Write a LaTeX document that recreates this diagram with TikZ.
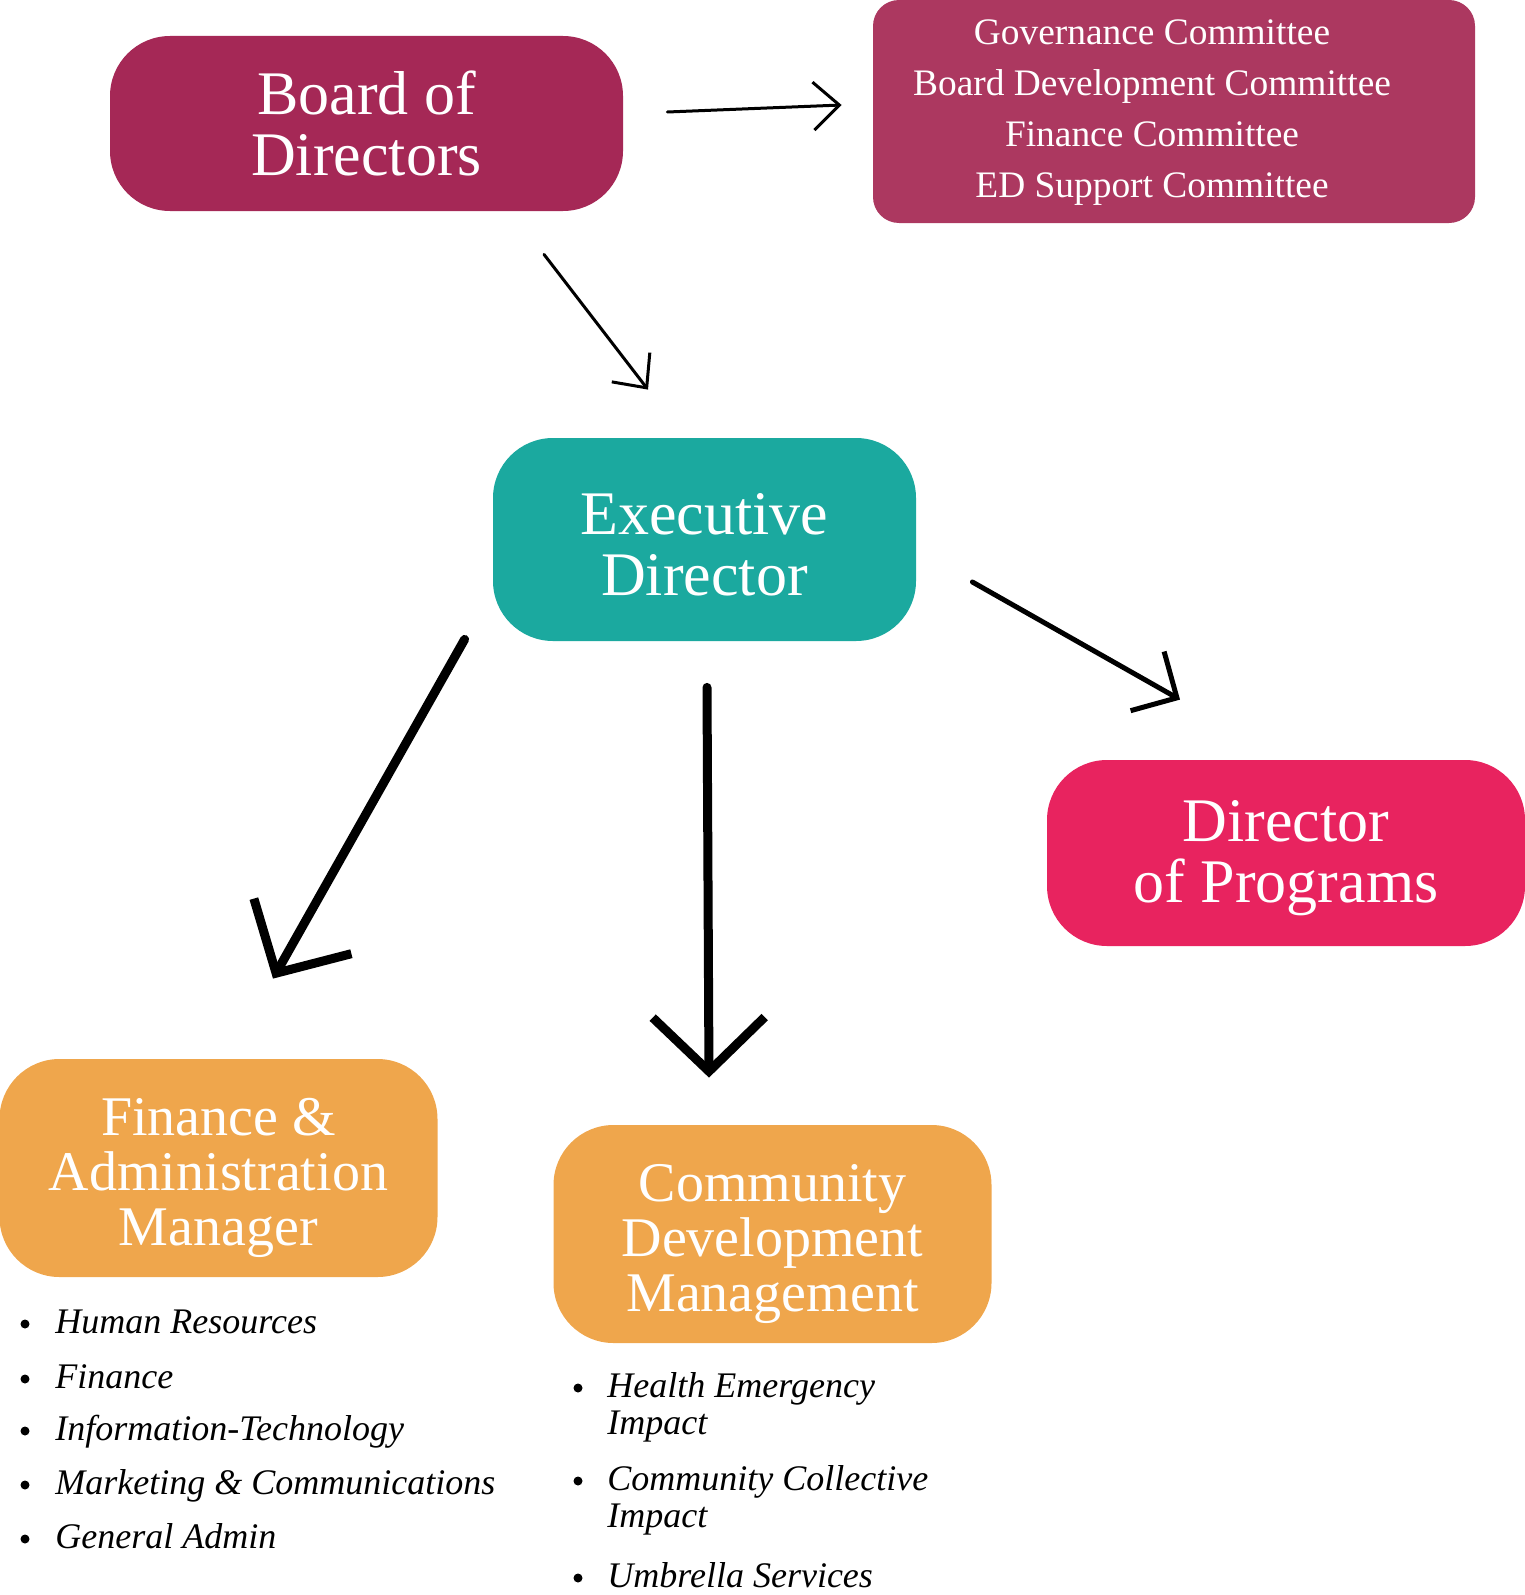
\documentclass[tikz,border=0pt]{standalone}
\usepackage{fontspec}
\setmainfont{Liberation Serif}
\usetikzlibrary{positioning, arrows.meta, calc}
\definecolor{boardred}{RGB}{165, 40, 86}
\definecolor{committeered}{RGB}{172, 56, 96}
\definecolor{edteal}{RGB}{27, 169, 159}
\definecolor{programpink}{RGB}{232, 35, 95}
\definecolor{managerorange}{RGB}{239, 166, 76}

\begin{document}
\begin{tikzpicture}[
    x=0.5pt, y=-0.5pt, % one unit = one pixel of the reference, y down
    box/.style={ % Style for main boxes, takes fill color as argument
        rectangle,
        rounded corners=30pt,
        inner sep=0pt,
        draw=none,
        fill=#1
    },
    boxtext/.style={align=center, text=white, inner sep=0pt, font=#1},
    boxtext/.default=\fontsize{31}{30.5}\selectfont,
    % Specific styles using the base 'box' style
    board/.style={box=boardred, minimum width=256.5pt, minimum height=87.5pt},
    committees/.style={box=committeered, rounded corners=13pt,
        minimum width=301pt, minimum height=111.5pt},
    director/.style={box=#1},
    manager/.style={box=managerorange, minimum width=219pt, minimum height=109pt},
    % Bullet lists
    bullet/.style={circle, fill=black, inner sep=0pt, minimum size=4.5pt},
    item/.style={anchor=base west, inner sep=0pt, align=left,
        font=\fontsize{18}{18.5}\selectfont\itshape},
    % Arrow styles
    thinarrow/.style={draw=black, line width=1.5pt, line cap=round,
        -{Straight Barb[length=13pt, width=24pt]}},
    midarrow/.style={draw=black, line width=2.5pt, line cap=round,
        -{Straight Barb[length=17pt, width=34pt]}},
    thickarrow/.style={draw=black, line width=4.5pt, line cap=round,
        -{Straight Barb[length=27pt, width=56pt]}}
]
\useasboundingbox (0,0) rectangle (1525,1595);

% Board and committees
\node[board] (board) at (366.5,123.5) {};
\node[boxtext] (board-text) at (board) {Board of\\Directors};
\node[committees] (comm) at (1174,111.5) {};
\node[boxtext=\fontsize{18.7}{25.5}\selectfont] (comm-text) at (1152,113)
    {Governance Committee\\Board Development Committee\\Finance Committee\\ED Support Committee};

% Directors
\node[director=edteal, minimum width=211.5pt, minimum height=101.5pt] (ed) at (704.5,539.5) {};
\node[boxtext] (ed-text) at ([yshift=-2.5pt]ed) {Executive\\Director};
\node[director=programpink, minimum width=239pt, minimum height=93pt] (dop) at (1286,853) {};
\node[boxtext] (dop-text) at ([yshift=-2.5pt]dop) {Director\\of Programs};

% Managers
\node[manager] (fam) at (218.5,1168) {};
\node[boxtext=\fontsize{28}{27.5}\selectfont] (fam-text) at ([yshift=-5pt]fam)
    {Finance \&\\Administration\\Manager};
\node[manager] (cdm) at (772.5,1234) {};
\node[boxtext=\fontsize{28}{27.5}\selectfont] (cdm-text) at ([yshift=-5pt]cdm)
    {Community\\Development\\Management};

% Task lists (\y = first baseline, \yb = last baseline)
\foreach \y/\yb/\txt [count=\i] in {1333/1333/Human Resources, 1388/1388/Finance,
    1440/1440/Information-Technology, 1494/1494/{Marketing \& Communications},
    1548/1548/General Admin} {
    \node[bullet] (fam-bullet-\i) at (25,\y-9) {};
    \node[item] (fam-item-\i) at (55,\yb) {\txt};
}
\foreach \y/\yb/\txt [count=\i] in {1397/1434/{Health Emergency\\Impact},
    1490/1527/{Community Collective\\Impact}, 1587/1587/Umbrella Services} {
    \node[bullet] (cdm-bullet-\i) at (578,\y-9) {};
    \node[item] (cdm-item-\i) at (607,\yb) {\txt};
}

% Arrow ends
\coordinate (board-out-r) at ([shift={(44,-11.5)}]board.east);
\coordinate (comm-in) at ([shift={(-31,-6.5)}]comm.west);
\coordinate (board-out-d) at ([shift={(177.5,43)}]board.south);
\coordinate (ed-in) at ([shift={(-56.5,-48)}]ed.north);
\coordinate (ed-out-r) at ([shift={(56,42.5)}]ed.east);
\coordinate (dop-in) at ([shift={(-106,-60)}]dop.north);
\coordinate (ed-out-l) at ([shift={(-28,-2)}]ed.south west);
\coordinate (fam-in) at ([shift={(54.5,-80)}]fam.north);
\coordinate (ed-out-d) at ([shift={(2.5,46)}]ed.south);
\coordinate (cdm-in) at ([shift={(-63.5,-47)}]cdm.north);

% Arrows
\draw[thinarrow] (board-out-r) -- (comm-in);
\draw[thinarrow] (board-out-d) -- (ed-in);
\draw[midarrow] (ed-out-r) -- (dop-in);
\draw[thickarrow] (ed-out-l) -- (fam-in);
\draw[thickarrow] (ed-out-d) -- (cdm-in);

\end{tikzpicture}
\end{document}
